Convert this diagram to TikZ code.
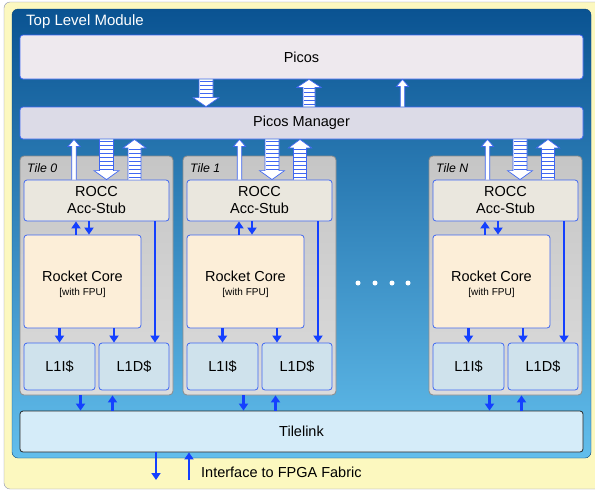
\documentclass[tikz,border=0pt]{standalone}
\usepackage{fontspec}
\setmainfont{Liberation Sans}
\usetikzlibrary{arrows.meta,calc}

\definecolor{padyellow}{HTML}{FCF8BF}
\definecolor{padframe}{HTML}{8A90B4}
\definecolor{topblue}{HTML}{0A5392}
\definecolor{midblue}{HTML}{2D80BF}
\definecolor{lowblue}{HTML}{62BEEC}
\definecolor{boxblue}{HTML}{3F67F2}
\definecolor{linkblue}{HTML}{1440FF}
\definecolor{picosfill}{HTML}{EEE9EE}
\definecolor{mgrfill}{HTML}{DCDBE7}
\definecolor{roccfill}{HTML}{EAE7DE}
\definecolor{corefill}{HTML}{FCEED8}
\definecolor{cachefill}{HTML}{CFE2EC}
\definecolor{tlfill}{HTML}{D5ECF9}

% block arrow: from, to, shaft half width, head half width, head length
\newcommand\hollowarrow[5]{%
	\draw[boxblue, fill=white, line width=.7pt]
	let \p1=(#1), \p2=(#2), \p3=($(#2)!#5!(#1)$) in
	(\x1-#3,\y1) -- (\x1-#3,\y3) -- (\x1-#4,\y3) -- (\x1,\y2) --
	(\x1+#4,\y3) -- (\x1+#3,\y3) -- (\x1+#3,\y1);}
\newcommand\stripedarrow[5]{%
	\hollowarrow{#1}{#2}{#3}{#4}{#5}
	\draw[boxblue, line width={2*#3-1pt}, dash pattern=on .8pt off 3.2pt, dash phase=2.4pt]
	(#1) -- ($(#2)!#5!(#1)$);}

\begin{document}
\begin{tikzpicture}[x=1pt,y=-1pt,
	blk/.style={draw=boxblue, line width=.8pt, rounded corners=3pt, inner sep=0pt,
		align=center, font=\fontsize{14.5}{17}\selectfont},
	tilebox/.style={draw=black!45, line width=.8pt, rounded corners=4pt,
		top color=gray!45, bottom color=gray!28},
	sig/.style={linkblue, line width=2.2pt, -{Triangle[width=9pt,length=7pt]}}]
	\useasboundingbox (0,0) rectangle (595,491);
	\draw[padframe, fill=padyellow, rounded corners=6pt] (4,2) rectangle (610,489);
	\node[draw=topblue!80!black, rounded corners=6pt, minimum width=579pt, minimum height=449pt,
		top color=topblue, middle color=midblue, bottom color=lowblue] (top) at (301.5,233.5) {};
	\node[anchor=west, inner sep=0pt, text=white, font=\fontsize{15}{18}\selectfont] (toptitle) at (26,22) {Top Level Module};

	\node[blk, fill=picosfill, minimum width=563pt, minimum height=44pt] (picos) at (301.5,57) {Picos};
	\node[blk, fill=mgrfill, minimum width=563pt, minimum height=32pt] (mgr) at (301.5,123) {Picos Manager};
	\node[blk, draw=black!85, fill=tlfill, minimum width=563pt, minimum height=41pt] (tl) at (301.5,431.5) {Tilelink};

	\stripedarrow{picos.south -| 206,0}{mgr.north -| 206,0}{7pt}{13pt}{9pt}
	\stripedarrow{mgr.north -| 309,0}{picos.south -| 309,0}{6pt}{12pt}{8pt}
	\hollowarrow{mgr.north -| 402.5,0}{picos.south -| 402.5,0}{2.2pt}{6pt}{7pt}

	\foreach \i/\dx/\ax/\tname in {0/0/0/0, 1/163/2.5/1, n/409/4.5/N} {
		\begin{scope}[xshift=\dx]
			\node[tilebox, minimum width=153pt, minimum height=239pt] (tile\i) at (96.5,275.5) {};
			\node[anchor=west, inner sep=0pt, font=\itshape\fontsize{12.3}{14}\selectfont] (tilename\i) at (27,168) {Tile \tname};
			\node[blk, fill=roccfill, minimum width=145pt, minimum height=41pt] (rocc\i) at (96.5,200.5) {ROCC\\Acc-Stub};
			\node[blk, fill=corefill, minimum width=117pt, minimum height=93pt, text height=30pt] (core\i) at (82.5,281.5)
				{Rocket Core\\[-3.5pt]{\fontsize{10}{12}\selectfont [with FPU]}};
			\node[blk, fill=cachefill, minimum width=71pt, minimum height=47pt] (li\i) at (59.5,366.5) {L1I\$};
			\node[blk, fill=cachefill, minimum width=70pt, minimum height=47pt] (ld\i) at (134,366.5) {L1D\$};

			\draw[sig] (core\i.north -| 76,0) -- (rocc\i.south -| 76,0);
			\draw[sig] (rocc\i.south -| 89,0) -- (core\i.north -| 89,0);
			\draw[sig] (core\i.south -| li\i.north) -- (li\i.north);
			\draw[sig] (core\i.south -| 114,0) -- (ld\i.north -| 114,0);
			\draw[sig] (rocc\i.south -| 155,0) -- (ld\i.north -| 155,0);

			\coordinate (down\i) at ([xshift=-16pt]tile\i.south);
			\coordinate (up\i) at ([xshift=16pt]tile\i.south);
			\draw[sig] (down\i) -- (down\i |- tl.north);
			\draw[sig] (up\i |- tl.north) -- (up\i);

			\hollowarrow{rocc\i.north -| 74+\ax,0}{mgr.south -| 74+\ax,0}{2.2pt}{6pt}{7pt}
			\stripedarrow{mgr.south -| 106.5+\ax,0}{rocc\i.north -| 106.5+\ax,0}{7pt}{12.5pt}{9pt}
			\stripedarrow{rocc\i.north -| 134.5+\ax,0}{mgr.south -| 134.5+\ax,0}{6.5pt}{11.5pt}{8.5pt}
		\end{scope}
	}

	\foreach \d in {358,375,392,408}
		\fill[white] (\d,283) circle (2.5);

	\coordinate (fpgaout) at (156,480);
	\coordinate (fpgain) at (189,480);
	\draw[sig] (tl.south -| fpgaout) -- (fpgaout);
	\draw[sig] (fpgain) -- (tl.south -| fpgain);
	\node[anchor=west, inner sep=0pt, font=\fontsize{14.5}{17}\selectfont] (fpga) at (201,472) {Interface to FPGA Fabric};
\end{tikzpicture}
\end{document}
